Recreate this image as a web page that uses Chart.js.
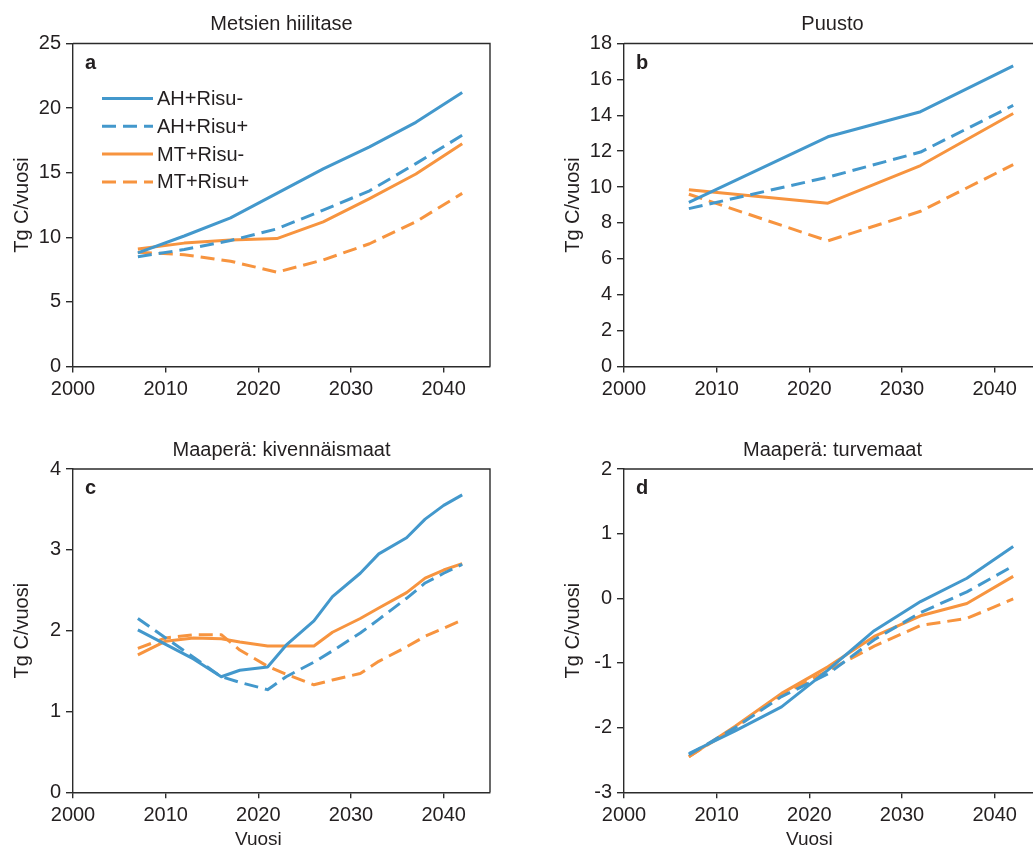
<!DOCTYPE html>
<html lang="fi">
<head>
    <meta charset="UTF-8">
    <title>Metsien hiilitase</title>
    <style>
        body {
            margin: 0;
            padding: 0;
            background: #fff;
            overflow: hidden;
            width: 1033px;
            height: 850px;
            position: relative;
        }
        canvas {
            position: absolute;
        }
        #chartA { left: 0; top: 0; }
        #chartB { left: 551px; top: 0; }
        #chartC { left: 0; top: 425px; }
        #chartD { left: 551px; top: 425px; }
    </style>
</head>
<body>
    <canvas id="chartA" width="494" height="400"></canvas>
    <canvas id="chartB" width="494" height="400"></canvas>
    <canvas id="chartC" width="494" height="425"></canvas>
    <canvas id="chartD" width="494" height="425"></canvas>

    <script src="https://cdn.jsdelivr.net/npm/chart.js"></script>
    <script>
// series names (legend)
const seriesNames = ['AH+Risu-', 'AH+Risu+', 'MT+Risu-', 'MT+Risu+'];

// a - Metsien hiilitase
const yearsA = [2007, 2012, 2017, 2022, 2027, 2032, 2037, 2042];
const aAhMinus = [8.8, 10.1, 11.5, 13.4, 15.3, 17.0, 18.9, 21.2];
const aAhPlus = [8.5, 9.05, 9.75, 10.65, 12.1, 13.6, 15.7, 17.9];
const aMtMinus = [9.1, 9.55, 9.8, 9.9, 11.2, 13.0, 14.9, 17.25];
const aMtPlus = [8.85, 8.65, 8.15, 7.3, 8.25, 9.5, 11.2, 13.4];

// b - Puusto
const yearsB = [2007, 2022, 2032, 2042];
const bAhMinus = [9.15, 12.8, 14.2, 16.75];
const bAhPlus = [8.8, 10.55, 11.95, 14.55];
const bMtMinus = [9.85, 9.1, 11.2, 14.1];
const bMtPlus = [9.6, 7.0, 8.65, 11.25];

// c - Maaperä: kivennäismaat
const yearsC = [2007, 2010, 2013, 2016, 2018, 2021, 2023, 2026, 2028, 2031, 2033, 2036, 2038, 2040, 2042];
const cAhMinus = [2.01, 1.83, 1.65, 1.43, 1.51, 1.55, 1.82, 2.12, 2.42, 2.71, 2.95, 3.15, 3.38, 3.55, 3.68];
const cAhPlus = [2.15, 1.91, 1.67, 1.43, 1.36, 1.27, 1.43, 1.61, 1.75, 1.97, 2.14, 2.40, 2.59, 2.71, 2.82];
const cMtMinus = [1.70, 1.87, 1.91, 1.90, 1.86, 1.81, 1.81, 1.81, 1.98, 2.15, 2.28, 2.47, 2.65, 2.75, 2.83];
const cMtPlus = [1.78, 1.91, 1.95, 1.95, 1.76, 1.56, 1.46, 1.33, 1.39, 1.47, 1.62, 1.80, 1.93, 2.03, 2.13];

// d - Maaperä: turvemaat
const yearsD = [2007, 2012, 2017, 2022, 2027, 2032, 2037, 2042];
const dAhMinus = [-2.40, -2.05, -1.68, -1.11, -0.50, -0.05, 0.31, 0.80];
const dAhPlus = [-2.42, -2.00, -1.52, -1.17, -0.64, -0.22, 0.10, 0.50];
const dMtMinus = [-2.45, -1.98, -1.47, -1.06, -0.59, -0.27, -0.08, 0.34];
const dMtPlus = [-2.45, -2.00, -1.49, -1.12, -0.74, -0.42, -0.31, -0.01];

const BLUE = '#4398cc';
const ORANGE = '#f7943f';
const AXIS = '#2b2b2b';
const TEXT = '#231f20';
const FONT = '"Liberation Sans", Arial, sans-serif';
const DASH = [14, 7];

// top + right lines of the frame
const framePlugin = {
    id: 'frame',
    afterDraw(chart) {
        const a = chart.chartArea;
        const ctx = chart.ctx;
        ctx.save();
        ctx.strokeStyle = AXIS;
        ctx.lineWidth = 1.4;
        ctx.beginPath();
        ctx.moveTo(a.left, a.top);
        ctx.lineTo(a.right, a.top);
        ctx.lineTo(a.right, a.bottom);
        ctx.stroke();
        ctx.restore();
    }
};

// bold panel letter in the corner + 'Vuosi' under the 2000-2040 range
const letterPlugin = {
    id: 'panelLetter',
    afterDraw(chart, args, opts) {
        const a = chart.chartArea;
        const ctx = chart.ctx;
        ctx.save();
        ctx.fillStyle = TEXT;
        if (opts.text) {
            ctx.font = 'bold 20px ' + FONT;
            ctx.textBaseline = 'alphabetic';
            ctx.fillText(opts.text, a.left + 12, a.top + 25);
        }
        if (opts.xTitle) {
            const xs = chart.scales.x;
            ctx.font = '19px ' + FONT;
            ctx.textAlign = 'center';
            ctx.textBaseline = 'middle';
            ctx.fillText(opts.xTitle, xs.getPixelForValue(2020), chart.height - 10);
        }
        ctx.restore();
    }
};

// legend inside plot a (line samples + names)
const lineLegendPlugin = {
    id: 'lineLegend',
    afterDraw(chart, args, opts) {
        if (!opts.show) return;
        const a = chart.chartArea;
        const ctx = chart.ctx;
        ctx.save();
        ctx.font = '20px ' + FONT;
        ctx.textBaseline = 'middle';
        chart.data.datasets.forEach((ds, i) => {
            const y = a.top + 55 + i * 27.8;
            ctx.strokeStyle = ds.borderColor;
            ctx.lineWidth = ds.borderWidth;
            ctx.setLineDash(ds.borderDash || []);
            ctx.beginPath();
            ctx.moveTo(a.left + 29, y);
            ctx.lineTo(a.left + 80, y);
            ctx.stroke();
            ctx.fillStyle = TEXT;
            ctx.fillText(ds.label, a.left + 84, y + 1);
        });
        ctx.restore();
    }
};

function toPoints(years, values) {
    return years.map((yr, i) => ({ x: yr, y: values[i] }));
}

function makePanel(id, title, letter, years, series, yMin, yMax, yStep, opts) {
    const styles = [
        { color: BLUE, dash: [] },
        { color: BLUE, dash: DASH },
        { color: ORANGE, dash: [] },
        { color: ORANGE, dash: DASH }
    ];
    const datasets = series.map((vals, i) => ({
        label: seriesNames[i],
        data: toPoints(years, vals),
        borderColor: styles[i].color,
        borderDash: styles[i].dash,
        borderWidth: 3,
        pointRadius: 0,
        tension: 0,
        fill: false,
        borderJoinStyle: 'round'
    }));

    return new Chart(document.getElementById(id), {
        type: 'line',
        data: { datasets: datasets },
        plugins: [framePlugin, letterPlugin, lineLegendPlugin],
        options: {
            responsive: false,
            animation: false,
            layout: { padding: { left: 0, right: 4, top: 0, bottom: 0 } },
            plugins: {
                legend: { display: false },
                tooltip: { enabled: false },
                title: {
                    display: true,
                    fullSize: false,
                    text: title,
                    color: TEXT,
                    font: { family: FONT, size: 20, weight: 'normal' },
                    padding: { top: opts.titleTop, bottom: 7 }
                },
                panelLetter: { text: letter, xTitle: opts.xTitle ? 'Vuosi' : '' },
                lineLegend: { show: !!opts.legend }
            },
            scales: {
                x: {
                    type: 'linear',
                    min: 2000,
                    max: 2045,
                    ticks: {
                        stepSize: 10,
                        includeBounds: false,
                        maxRotation: 0,
                        autoSkip: false,
                        padding: 5,
                        color: TEXT,
                        font: { family: FONT, size: 20 },
                        callback: v => String(v)
                    },
                    grid: { drawOnChartArea: false, tickLength: 6, color: AXIS, lineWidth: 1.4 },
                    border: { color: AXIS, width: 1.4 },
                    afterFit: s => { s.height = opts.xHeight; }
                },
                y: {
                    min: yMin,
                    max: yMax,
                    ticks: {
                        stepSize: yStep,
                        padding: 5,
                        color: TEXT,
                        font: { family: FONT, size: 20 },
                        callback: v => String(v)
                    },
                    grid: { drawOnChartArea: false, tickLength: 7, color: AXIS, lineWidth: 1.4 },
                    border: { color: AXIS, width: 1.4 },
                    title: {
                        display: true,
                        text: 'Tg C/vuosi',
                        color: TEXT,
                        font: { family: FONT, size: 20 },
                        padding: { top: 10, bottom: 0 }
                    },
                    afterFit: s => { s.width = 73; }
                }
            }
        }
    });
}

makePanel('chartA', 'Metsien hiilitase', 'a', yearsA,
    [aAhMinus, aAhPlus, aMtMinus, aMtPlus], 0, 25, 5,
    { titleTop: 12.5, xHeight: 33.5, legend: true });

makePanel('chartB', 'Puusto', 'b', yearsB,
    [bAhMinus, bAhPlus, bMtMinus, bMtPlus], 0, 18, 2,
    { titleTop: 12.5, xHeight: 33.5 });

makePanel('chartC', 'Maaperä: kivennäismaat', 'c', yearsC,
    [cAhMinus, cAhPlus, cMtMinus, cMtPlus], 0, 4, 1,
    { titleTop: 13, xHeight: 57.7, xTitle: true });

makePanel('chartD', 'Maaperä: turvemaat', 'd', yearsD,
    [dAhMinus, dAhPlus, dMtMinus, dMtPlus], -3, 2, 1,
    { titleTop: 13, xHeight: 57.7, xTitle: true });
    </script>
</body>
</html>
